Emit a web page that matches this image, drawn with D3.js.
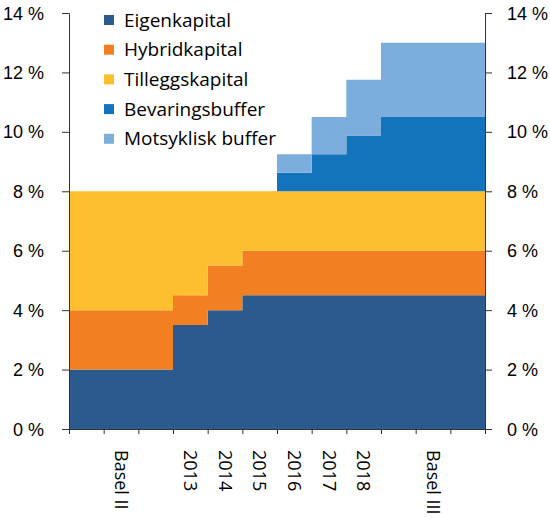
<!DOCTYPE html>
<html lang="no">
<head>
<meta charset="UTF-8">
<title>Kapitalkrav</title>
<style>
  body { margin: 0; background: #fff; }
  svg { display: block; font-family: "Open Sans", sans-serif; }
  .axis path, .axis line { stroke: #333; stroke-width: 1; }
  .axis text { font-size: 18px; fill: #000; }
  .legend text { font-size: 19px; fill: #000; }
</style>
</head>
<body>
<svg width="550" height="518"></svg>
<script src="https://d3js.org/d3.v7.min.js"></script>
<script>
  // 12 periods along the x axis, only some are labelled
  const periods = ["", "Basel II", "", "2013", "2014", "2015", "2016", "2017", "2018", "", "Basel III", ""];

  const eigenkapital   = [2, 2, 2, 3.5, 4, 4.5, 4.5, 4.5, 4.5, 4.5, 4.5, 4.5];
  const hybridkapital  = [2, 2, 2, 1, 1.5, 1.5, 1.5, 1.5, 1.5, 1.5, 1.5, 1.5];
  const tilleggskapital = [4, 4, 4, 3.5, 2.5, 2, 2, 2, 2, 2, 2, 2];
  const bevaringsbuffer = [0, 0, 0, 0, 0, 0, 0.625, 1.25, 1.875, 2.5, 2.5, 2.5];
  const motsyklisk     = [0, 0, 0, 0, 0, 0, 0.625, 1.25, 1.875, 2.5, 2.5, 2.5];

  const seriesNames = ["Eigenkapital", "Hybridkapital", "Tilleggskapital", "Bevaringsbuffer", "Motsyklisk buffer"];
  const seriesValues = [eigenkapital, hybridkapital, tilleggskapital, bevaringsbuffer, motsyklisk];
  const colors = ["#2b5a8e", "#f28022", "#fdbf2e", "#1373bb", "#7baedd"];

  const yTicks = [0, 2, 4, 6, 8, 10, 12, 14];

  const svg = d3.select("svg");
  const margin = { left: 69, right: 65, top: 13, bottom: 89 };
  const width = +svg.attr("width");
  const height = +svg.attr("height");

  const x = d3.scaleLinear()
    .domain([0, periods.length])
    .range([margin.left, width - margin.right]);

  const y = d3.scaleLinear()
    .domain([0, 14])
    .range([height - margin.bottom, margin.top]);

  // table for d3.stack
  const table = periods.map((p, i) => {
    const row = { i: i };
    seriesNames.forEach((n, k) => { row[n] = seriesValues[k][i]; });
    return row;
  });
  // extra row so the last step reaches the right edge
  table.push(Object.assign({}, table[table.length - 1], { i: periods.length }));

  const stacked = d3.stack().keys(seriesNames)(table);

  const area = d3.area()
    .curve(d3.curveStepAfter)
    .x(d => x(d.data.i))
    .y0(d => y(d[0]))
    .y1(d => y(d[1]));

  svg.append("g")
    .selectAll("path")
    .data(stacked)
    .join("path")
    .attr("fill", (d, k) => colors[k])
    .attr("d", area);

  // left axis
  svg.append("g")
    .attr("class", "axis")
    .attr("transform", `translate(${margin.left},0)`)
    .call(d3.axisLeft(y).tickValues(yTicks).tickSize(7).tickPadding(18)
      .tickFormat(d => d + " %"))
    .call(g => g.selectAll("text").attr("dy", "0.34em"));

  // right axis
  svg.append("g")
    .attr("class", "axis")
    .attr("transform", `translate(${width - margin.right},0)`)
    .call(d3.axisRight(y).tickValues(yTicks).tickSize(7).tickPadding(15)
      .tickFormat(d => d + " %"))
    .call(g => g.selectAll("text").attr("dy", "0.34em"));

  // bottom axis: ticks at period boundaries
  svg.append("g")
    .attr("class", "axis")
    .attr("transform", `translate(0,${y(0)})`)
    .call(d3.axisBottom(x).tickValues(d3.range(periods.length + 1))
      .tickSize(5).tickSizeOuter(0).tickFormat(""));

  // rotated period labels, centered in each period
  svg.append("g")
    .attr("class", "axis")
    .selectAll("text")
    .data(periods)
    .join("text")
    .attr("transform", (d, i) => `translate(${x(i + 0.5)},${y(0) + 21}) rotate(90)`)
    .attr("dy", "0.35em")
    .attr("text-anchor", "start")
    .text(d => d);

  // legend
  const legend = svg.append("g")
    .attr("class", "legend")
    .attr("transform", "translate(104,20)");

  const item = legend.selectAll("g")
    .data(seriesNames)
    .join("g")
    .attr("transform", (d, k) => `translate(0,${k * 29.7})`);

  item.append("rect")
    .attr("x", 0).attr("y", -5)
    .attr("width", 10).attr("height", 10)
    .attr("fill", (d, k) => colors[k]);

  item.append("text")
    .attr("x", 20)
    .attr("dy", "0.35em")
    .text(d => d);
</script>
</body>
</html>
